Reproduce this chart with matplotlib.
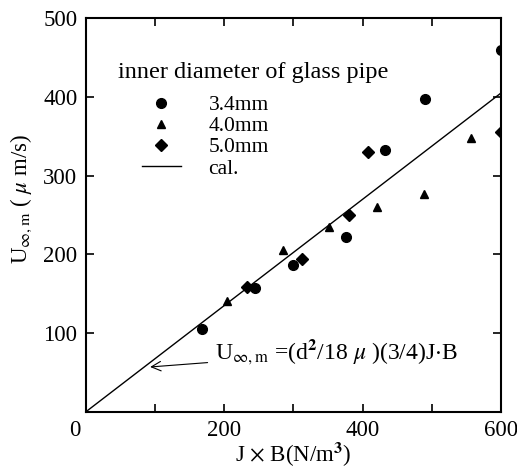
import matplotlib
matplotlib.use('Agg')
import matplotlib.pyplot as plt
import matplotlib.transforms as mtransforms
from matplotlib.legend_handler import HandlerLine2D
import numpy as np

plt.rcParams['font.family'] = ['Liberation Serif', 'DejaVu Serif']
plt.rcParams['mathtext.fontset'] = 'stix'

# datos
x_34 = [168, 245, 300, 376, 433, 490, 600]
y_34 = [105, 157, 187, 222, 332, 398, 460]
x_40 = [204, 285, 352, 421, 489, 557]
y_40 = [141, 205, 235, 260, 277, 348]
x_50 = [233, 312, 381, 408, 600]
y_50 = [159, 194, 250, 330, 356]
x_cal = [0, 600]
y_cal = [0, 405]


# marcador a la derecha del segmento en la leyenda
class MarcadorDerecha(HandlerLine2D):
    def get_xdata(self, legend, xdescent, ydescent, width, height, fontsize):
        xdata, _ = super().get_xdata(legend, xdescent, ydescent, width, height, fontsize)
        return xdata, np.array([-xdescent + 0.92 * width])


fig = plt.figure(figsize=(5.17, 4.68), dpi=100)
ax = fig.add_axes([0.166, 0.120, 0.803, 0.841])

ax.plot(x_34, y_34, 'o', color='black', markersize=7, label='3.4mm')
ax.plot(x_40, y_40, '^', color='black', markersize=5.5, label='4.0mm')
ax.plot(x_50, y_50, 'D', color='black', markersize=6.5, label='5.0mm')
ax.plot(x_cal, y_cal, '-', color='black', linewidth=1.0, label='cal.')

ax.set_xlim(0, 600)
ax.set_ylim(0, 500)
ax.set_xticks([0, 100, 200, 300, 400, 500, 600])
ax.set_xticklabels(['0', '', '200', '', '400', '', '600'])
ax.set_yticks([0, 100, 200, 300, 400, 500])
ax.set_yticklabels(['', '100', '200', '300', '400', '500'])
ax.tick_params(direction='in', length=6, width=1.2, top=True, right=True,
               labelsize=16.5, pad=6)
for s in ax.spines.values():
    s.set_linewidth(1.5)

cero = ax.get_xticklabels()[0]
cero.set_transform(cero.get_transform() +
                   mtransforms.ScaledTranslation(-0.11, 0, fig.dpi_scale_trans))

ax.set_xlabel('J $\\times$ B(N/m$^{\\mathbf{3}}$)', fontsize=16.5, labelpad=0)
ax.set_ylabel('U$_{\\infty,\\mathrm{m}}$ ( $\\mu$ m/s)', fontsize=16.5)
ax.yaxis.set_label_coords(-0.125, 0.54)

ax.annotate('U$_{\\infty,\\mathrm{m}}$ =(d$^{\\mathbf{2}}$/18 $\\mu$ )(3/4)J$\\cdot$B',
            xy=(93, 57), xytext=(186, 75), fontsize=17, va='center',
            arrowprops=dict(arrowstyle='->', color='black', linewidth=0.8,
                            shrinkA=3, shrinkB=0))

ax.text(0.077, 0.863, 'inner diameter of glass pipe', transform=ax.transAxes,
        fontsize=17.5, va='center', ha='left')
leg = ax.legend(loc='upper left', bbox_to_anchor=(0.135, 0.805), frameon=False,
                fontsize=15.5, handlelength=1.8, handletextpad=1.3,
                labelspacing=0.05, borderpad=0, borderaxespad=0,
                handler_map={matplotlib.lines.Line2D: MarcadorDerecha()})

fig.savefig('out.png', dpi=100)
